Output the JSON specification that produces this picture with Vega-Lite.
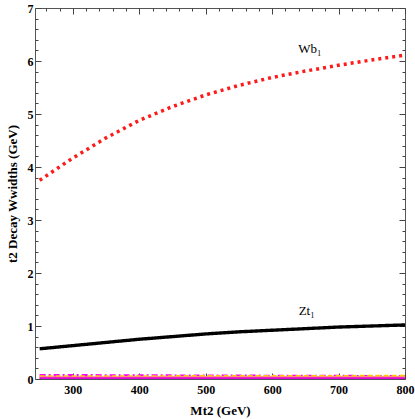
{
  "$schema": "https://vega.github.io/schema/vega-lite/v6.json",
  "width": 370,
  "height": 371,
  "autosize": {"type": "none"},
  "padding": {"left": 35, "top": 8, "right": 10, "bottom": 40},
  "config": {
    "font": "Liberation Serif",
    "view": {"stroke": "#555", "strokeWidth": 1},
    "axis": {"labelFont": "Liberation Serif", "titleFont": "Liberation Serif", "labelFontWeight": "bold", "titleFontWeight": "bold", "labelFontSize": 12, "titleFontSize": 13, "labelColor": "#000", "titleColor": "#000", "grid": false, "domainColor": "#555", "tickColor": "#444", "tickWidth": 1, "labelOverlap": false}
  },
  "data": {"values": [
    {"s": "Wb1", "x": 250, "y": 3.75}, {"s": "Wb1", "x": 300, "y": 4.17}, {"s": "Wb1", "x": 350, "y": 4.55}, {"s": "Wb1", "x": 400, "y": 4.88},
    {"s": "Wb1", "x": 450, "y": 5.14}, {"s": "Wb1", "x": 500, "y": 5.36}, {"s": "Wb1", "x": 550, "y": 5.54}, {"s": "Wb1", "x": 600, "y": 5.69},
    {"s": "Wb1", "x": 650, "y": 5.81}, {"s": "Wb1", "x": 700, "y": 5.92}, {"s": "Wb1", "x": 750, "y": 6.02}, {"s": "Wb1", "x": 800, "y": 6.11},
    {"s": "Zt1", "x": 250, "y": 0.57}, {"s": "Zt1", "x": 300, "y": 0.63}, {"s": "Zt1", "x": 350, "y": 0.69}, {"s": "Zt1", "x": 400, "y": 0.75},
    {"s": "Zt1", "x": 450, "y": 0.80}, {"s": "Zt1", "x": 500, "y": 0.85}, {"s": "Zt1", "x": 550, "y": 0.89}, {"s": "Zt1", "x": 600, "y": 0.92},
    {"s": "Zt1", "x": 650, "y": 0.95}, {"s": "Zt1", "x": 700, "y": 0.98}, {"s": "Zt1", "x": 750, "y": 1.00}, {"s": "Zt1", "x": 800, "y": 1.02},
    {"s": "A", "x": 250, "y": 0.065}, {"s": "A", "x": 500, "y": 0.055}, {"s": "A", "x": 800, "y": 0.045},
    {"s": "B", "x": 250, "y": 0.04}, {"s": "B", "x": 500, "y": 0.045}, {"s": "B", "x": 800, "y": 0.05},
    {"s": "C", "x": 250, "y": 0.025}, {"s": "C", "x": 500, "y": 0.028}, {"s": "C", "x": 800, "y": 0.03},
    {"s": "D", "x": 250, "y": 0.006}, {"s": "D", "x": 500, "y": 0.006}, {"s": "D", "x": 800, "y": 0.006}
  ]},
  "resolve": {"axis": {"x": "independent", "y": "independent"}},
  "layer": [
    {
      "mark": {"type": "line", "clip": true},
      "encoding": {
        "x": {"field": "x", "type": "quantitative", "scale": {"domain": [243, 800], "nice": false, "zero": false},
              "axis": {"title": "Mt2 (GeV)", "tickCount": 200, "values": [260,280,300,320,340,360,380,400,420,440,460,480,500,520,540,560,580,600,620,640,660,680,700,720,740,760,780,800],
                       "labelExpr": "datum.value % 100 === 0 ? datum.label : ''", "tickSize": {"condition": {"test": "datum.value % 100 === 0", "value": -6}, "value": -3}, "labelPadding": 11, "titlePadding": 6, "domain": false, "labelFlush": false}},
        "y": {"field": "y", "type": "quantitative", "scale": {"domain": [0, 7], "nice": false},
              "axis": {"title": "t2 Decay  Wwidths (GeV)", "tickCount": 200, "values": [0,0.2,0.4,0.6,0.8,1,1.2,1.4,1.6,1.8,2,2.2,2.4,2.6,2.8,3,3.2,3.4,3.6,3.8,4,4.2,4.4,4.6,4.8,5,5.2,5.4,5.6,5.8,6,6.2,6.4,6.6,6.8,7],
                       "labelExpr": "datum.value % 1 === 0 ? format(datum.value, 'd') : ''", "tickSize": {"condition": {"test": "datum.value % 1 === 0", "value": -6}, "value": -3}, "labelPadding": 8, "titlePadding": 8, "domain": false, "labelFlush": false}},
        "detail": {"field": "s"},
        "color": {"field": "s", "type": "nominal", "legend": null,
                  "scale": {"domain": ["Wb1", "Zt1", "A", "B", "C", "D"], "range": ["#ff1a1a", "#000000", "#ff00ff", "#ffcc00", "#ff9966", "#e600e6"]}},
        "strokeDash": {"field": "s", "type": "nominal", "legend": null,
                  "scale": {"domain": ["Wb1", "Zt1", "A", "B", "C", "D"], "range": [[3, 4], [1, 0], [6, 3, 2, 3], [5, 3], [1, 0], [1, 0]]}},
        "strokeWidth": {"field": "s", "type": "nominal", "legend": null,
                  "scale": {"domain": ["Wb1", "Zt1", "A", "B", "C", "D"], "range": [3.5, 2.8, 1.5, 1.5, 1.5, 3]}}
      }
    },
    {
      "data": {"values": [{"t": "Wb₁", "x": 657, "y": 6.1}, {"t": "Zt₁", "x": 652, "y": 1.15}]},
      "mark": {"type": "text", "font": "Liberation Serif", "fontSize": 13, "baseline": "bottom", "align": "center"},
      "encoding": {
        "x": {"field": "x", "type": "quantitative",
              "axis": {"orient": "top", "title": null, "labels": false, "domain": false, "tickCount": 200, "values": [260,280,300,320,340,360,380,400,420,440,460,480,500,520,540,560,580,600,620,640,660,680,700,720,740,760,780,800],
                       "tickSize": {"condition": {"test": "datum.value % 100 === 0", "value": -6}, "value": -3}}},
        "y": {"field": "y", "type": "quantitative",
              "axis": {"orient": "right", "title": null, "labels": false, "domain": false, "tickCount": 200, "values": [0,0.2,0.4,0.6,0.8,1,1.2,1.4,1.6,1.8,2,2.2,2.4,2.6,2.8,3,3.2,3.4,3.6,3.8,4,4.2,4.4,4.6,4.8,5,5.2,5.4,5.6,5.8,6,6.2,6.4,6.6,6.8,7],
                       "tickSize": {"condition": {"test": "datum.value % 1 === 0", "value": -6}, "value": -3}}},
        "text": {"field": "t"}
      }
    }
  ]
}
